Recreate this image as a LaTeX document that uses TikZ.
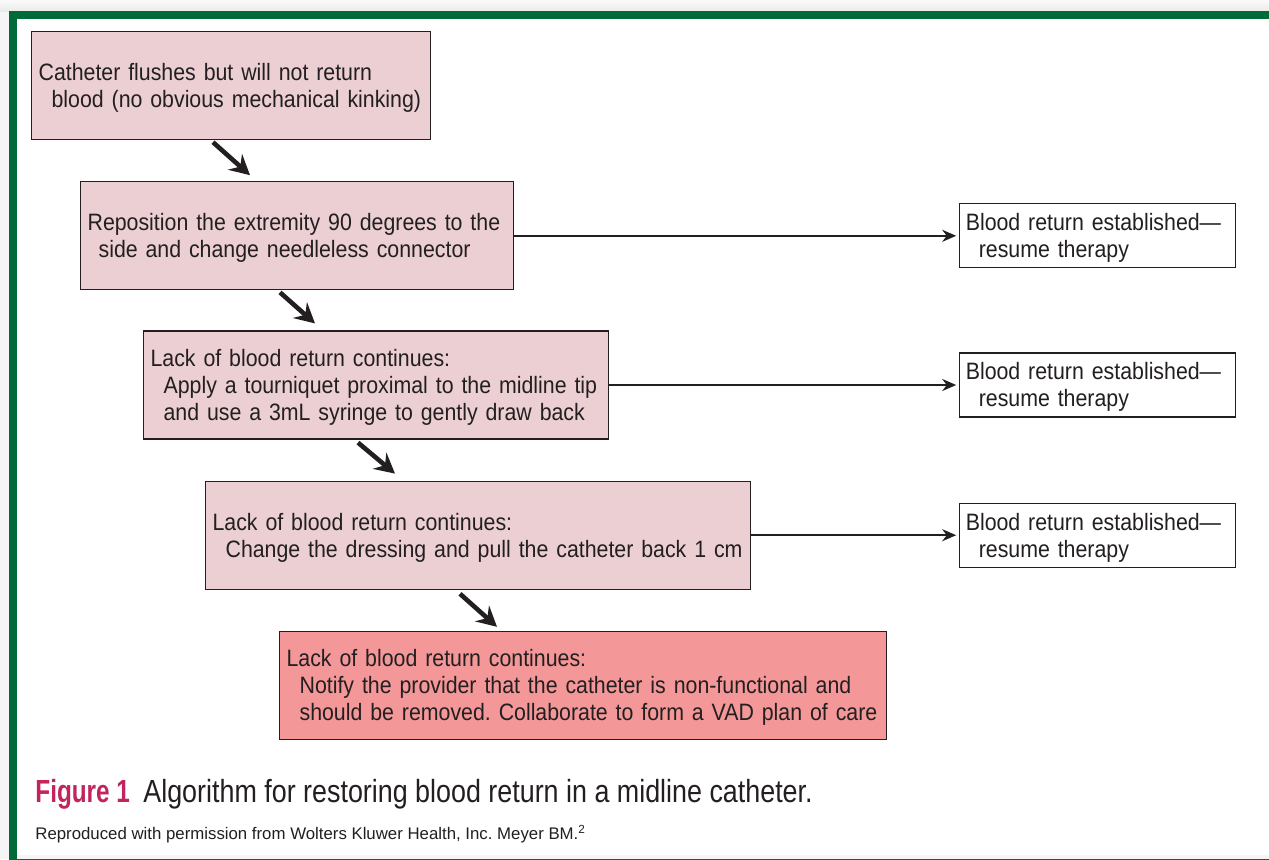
\documentclass[tikz,border=0pt]{standalone}
\usepackage{fontspec}
\setmainfont[FakeStretch=0.9]{Liberation Sans}
\newfontfamily\captionfont[FakeStretch=0.84, BoldFeatures={FakeStretch=0.76}]{Liberation Sans}
\newfontfamily\creditfont{Liberation Sans}
\frenchspacing
\usetikzlibrary{arrows.meta,positioning}
\definecolor{FrameGreen}{HTML}{006A3B}
\definecolor{SoftPink}{HTML}{EBCFD2}
\definecolor{AlertSalmon}{HTML}{F49798}
\definecolor{FigureRose}{HTML}{C2245E}
\definecolor{InkGray}{HTML}{231F20}
\newcommand{\boxlines}[1]{\raisebox{-1.5pt}[\height][\depth]{\begin{tabular}{@{}l@{}}#1\end{tabular}}}

\begin{document}
\begin{tikzpicture}[
  x=1pt, y=1pt,
  stepbox/.style={draw=InkGray, line width=0.6pt, fill=SoftPink, align=left, anchor=north west,
    inner xsep=3.5pt, minimum height=54pt, text=InkGray, font=\fontsize{11.85pt}{13.5pt}\selectfont},
  resultbox/.style={stepbox, fill=white, anchor=west, inner xsep=3pt, inner ysep=1.5pt, minimum height=32pt},
  flow/.style={-{Stealth[length=10pt,width=10.5pt,inset=3.5pt]}, line width=2.3pt, draw=InkGray},
  sideflow/.style={-{Stealth[length=7pt,width=6pt]}, line width=1.1pt, draw=InkGray, shorten >=1.5pt}
]
\useasboundingbox (0,0) rectangle (634.5,-429.5);
% page frame
\fill[black!4] (0,0) rectangle (634.5,-429.5);
\shade[top color=black!2, bottom color=black!8] (0,0) rectangle (634.5,-5.5);
\fill[white] (8.5,-9.5) rectangle (640,-427.5);
\draw[FrameGreen, line width=4pt] (6.5,-7.5) rectangle (645,-431.5);

% algorithm steps
\node[stepbox, text width=192.5pt] (flush) at (15.5,-15.5)
  {\boxlines{Catheter flushes but will not return\\\hspace*{6.5pt}blood (no obvious mechanical kinking)}};
\node[stepbox, text width=209.5pt, below right=20.5pt and 24.5pt of flush.south west] (reposition)
  {\boxlines{Reposition the extremity 90 degrees to the\\\hspace*{5.5pt}side and change needleless connector}};
\node[stepbox, text width=225.5pt, below right=20pt and 31.5pt of reposition.south west] (tourniquet)
  {\boxlines{Lack of blood return continues:\\\hspace*{6.5pt}Apply a tourniquet proximal to the midline tip\\\hspace*{6.5pt}and use a 3mL syringe to gently draw back}};
\node[stepbox, text width=265.5pt, below right=20.5pt and 31pt of tourniquet.south west] (dressing)
  {\boxlines{Lack of blood return continues:\\\hspace*{6.5pt}Change the dressing and pull the catheter back 1 cm}};
\node[stepbox, fill=AlertSalmon, text width=296.5pt, below right=20.5pt and 37pt of dressing.south west] (provider)
  {\boxlines{Lack of blood return continues:\\\hspace*{6.5pt}Notify the provider that the catheter is non-functional and\\\hspace*{6.5pt}should be removed. Collaborate to form a VAD plan of care}};

% outcomes
\node[resultbox, text width=132pt, right=222.5pt of reposition] (return1) {\boxlines{Blood return established---\\\hspace*{6.5pt}resume therapy}};
\node[resultbox, text width=132pt, right=175pt of tourniquet] (return2) {\boxlines{Blood return established---\\\hspace*{6.5pt}resume therapy}};
\node[resultbox, text width=132pt, right=104pt of dressing] (return3) {\boxlines{Blood return established---\\\hspace*{6.5pt}resume therapy}};

\draw[flow] ([xshift=91pt,yshift=-1pt]flush.south west) -- ([xshift=85pt,yshift=3pt]reposition.north west);
\draw[flow] ([xshift=100pt,yshift=-1pt]reposition.south west) -- ([xshift=86pt,yshift=3.5pt]tourniquet.north west);
\draw[flow] ([xshift=107.5pt,yshift=-1.5pt]tourniquet.south west) -- ([xshift=95pt,yshift=3.5pt]dressing.north west);
\draw[flow] ([xshift=127.5pt,yshift=-2pt]dressing.south west) -- ([xshift=109pt,yshift=2pt]provider.north west);

\draw[sideflow] (reposition.east) -- (reposition.east -| return1.west);
\draw[sideflow] (tourniquet.east) -- (tourniquet.east -| return2.west);
\draw[sideflow] (dressing.east) -- (dressing.east -| return3.west);

% caption
\node[anchor=base west, inner sep=0, text=FigureRose, font=\captionfont\fontsize{16pt}{18pt}\selectfont\bfseries] (figlabel) at (17.5,-401) {Figure 1};
\node[anchor=base west, inner sep=0, text=InkGray, font=\captionfont\fontsize{16pt}{18pt}\selectfont] (figtitle) at (71.5,-401)
  {Algorithm for restoring blood return in a midline catheter.};
\node[anchor=base west, inner sep=0, text=InkGray, font=\creditfont\fontsize{8.4pt}{10pt}\selectfont] (credit) at (17.5,-419.5)
  {Reproduced with permission from Wolters Kluwer Health, Inc. Meyer BM.\textsuperscript{2}};
\end{tikzpicture}
\end{document}
